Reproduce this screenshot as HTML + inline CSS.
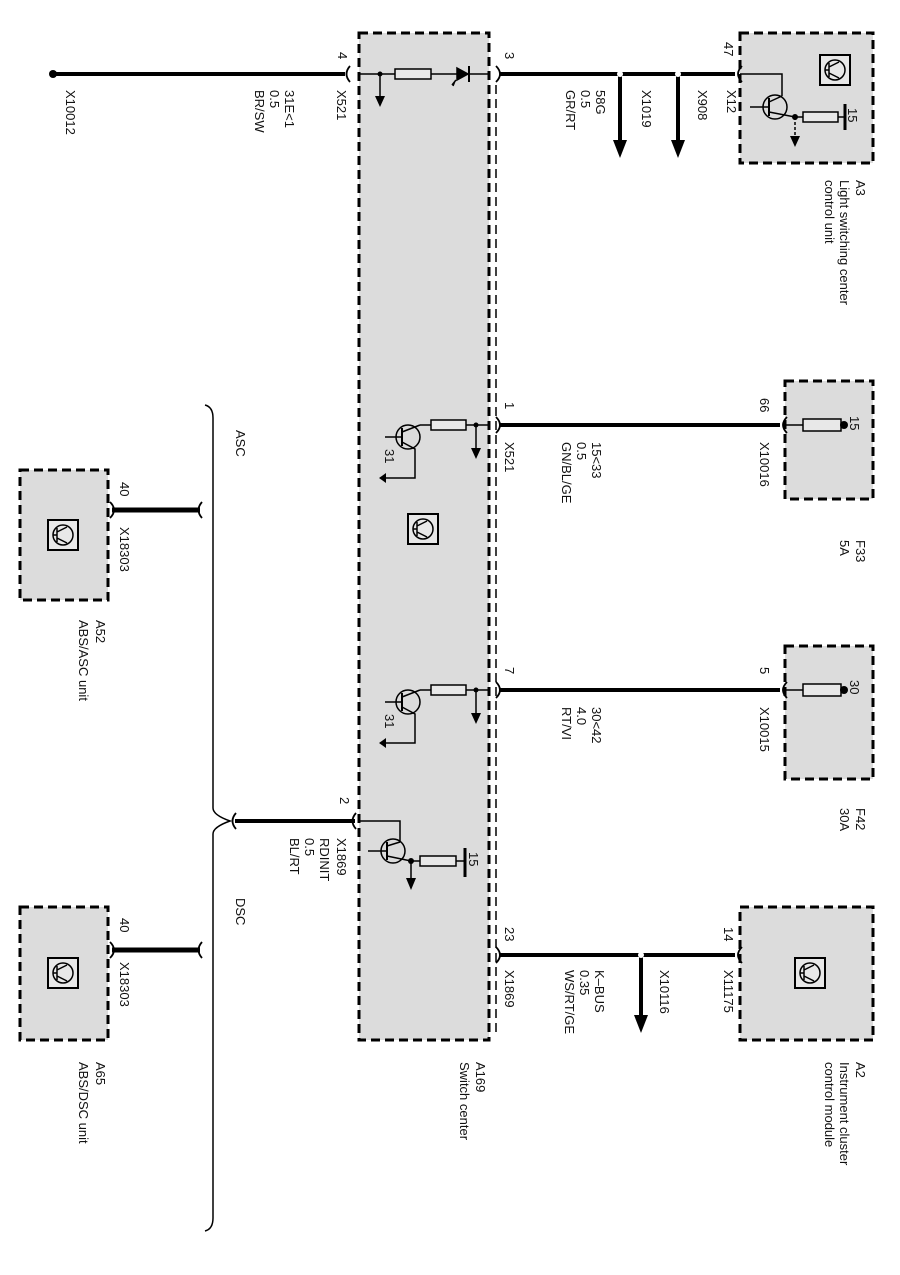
<!DOCTYPE html>
<html><head><meta charset="utf-8"><style>
html,body{margin:0;padding:0;background:#fff}
svg{display:block}
text{font-family:"Liberation Sans",sans-serif;font-size:13px;fill:#111}
</style></head><body>
<svg width="900" height="1275" viewBox="0 0 900 1275" xmlns="http://www.w3.org/2000/svg">
<defs>
<g id="icon"><rect x="0" y="0" width="30" height="30" fill="#e8e8e8" stroke="#000" stroke-width="2"/><circle cx="15" cy="15" r="10" fill="none" stroke="#000" stroke-width="1.5"/><path d="M9 8V22M9 15H5M9 12L19 7M9 18L19 23" stroke="#000" stroke-width="1.5" fill="none"/></g>
</defs>
<g fill="#dcdcdc" stroke="#000" stroke-width="3" stroke-dasharray="9,5">
<rect x="359" y="33" width="130" height="1007"/>
<rect x="740" y="33" width="133" height="130"/>
<rect x="785" y="381" width="88" height="118"/>
<rect x="785" y="646" width="88" height="133"/>
<rect x="740" y="907" width="133" height="133"/>
<rect x="20" y="470" width="88" height="130"/>
<rect x="20" y="907" width="88" height="133"/>
</g>
<line x1="496" y1="85" x2="496" y2="1035" stroke="#000" stroke-width="1.5" stroke-dasharray="9,5"/>
<!-- wires -->
<g stroke="#000" stroke-width="4" fill="none">
<line x1="55" y1="74" x2="345" y2="74"/>
<line x1="500" y1="74" x2="735" y2="74"/>
<line x1="500" y1="425" x2="780" y2="425"/>
<line x1="500" y1="690" x2="780" y2="690"/>
<line x1="235" y1="821" x2="355" y2="821"/>
<line x1="500" y1="955" x2="735" y2="955"/>
<line x1="112" y1="510" x2="200" y2="510" stroke-width="5"/>
<line x1="112" y1="950" x2="200" y2="950" stroke-width="5"/>
</g>
<circle cx="53" cy="74" r="4"/>
<!-- connector hooks -->
<g stroke="#000" stroke-width="1.8" fill="none">
<path d="M350 66Q343 74 350 82"/><path d="M496 66Q504 74 496 82"/><path d="M742 66Q734 74 742 82"/>
<path d="M496 417Q504 425 496 433"/><path d="M787 417Q779 425 787 433"/>
<path d="M496 682Q504 690 496 698"/><path d="M787 682Q779 690 787 698"/>
<path d="M356 813Q349 821 356 829"/><path d="M236 813Q229 821 236 829"/>
<path d="M496 947Q504 955 496 963"/><path d="M742 947Q734 955 742 963"/>
<path d="M110 502Q118 510 110 518"/><path d="M202 502Q195 510 202 518"/>
<path d="M110 942Q118 950 110 958"/><path d="M202 942Q195 950 202 958"/>
</g>
<!-- branch arrows -->
<g stroke="#000" stroke-width="4"><line x1="620" y1="74" x2="620" y2="145"/><line x1="678" y1="74" x2="678" y2="145"/><line x1="641" y1="955" x2="641" y2="1020"/></g>
<g fill="#000"><polygon points="613,140 627,140 620,158"/><polygon points="671,140 685,140 678,158"/><polygon points="634,1015 648,1015 641,1033"/>
<circle cx="620" cy="74" r="3" fill="#fff"/><circle cx="678" cy="74" r="3" fill="#fff"/><circle cx="641" cy="955" r="3" fill="#fff"/></g>
<!-- inside main box row1 -->
<g stroke="#000" stroke-width="1.5" fill="none">
<line x1="359" y1="74" x2="489" y2="74"/>
<rect x="395" y="69" width="36" height="10" fill="#e8e8e8"/>
<line x1="380" y1="74" x2="380" y2="98"/>
<path d="M457 68L468 74L457 80Z" fill="#000"/><line x1="469" y1="66" x2="469" y2="82" stroke-width="2"/>
<path d="M456 80L452 85M453 86l2 -5"/>
<!-- row2 -->
<line x1="420" y1="425" x2="489" y2="425"/>
<rect x="431" y="420" width="35" height="10" fill="#e8e8e8"/>
<line x1="476" y1="425" x2="476" y2="450"/>
<circle cx="408" cy="437" r="12"/>
<line x1="402" y1="428" x2="402" y2="446" stroke-width="2"/><line x1="385" y1="437" x2="402" y2="437"/>
<path d="M402 432L420 425M402 442L415 449V478H386"/>
<!-- row3 -->
<line x1="420" y1="690" x2="489" y2="690"/>
<rect x="431" y="685" width="35" height="10" fill="#e8e8e8"/>
<line x1="476" y1="690" x2="476" y2="715"/>
<circle cx="408" cy="702" r="12"/>
<line x1="402" y1="693" x2="402" y2="711" stroke-width="2"/><line x1="385" y1="702" x2="402" y2="702"/>
<path d="M402 697L420 690M402 707L415 714V743H386"/>
<!-- row4 -->
<path d="M359 821H400V842"/>
<circle cx="393" cy="851" r="12"/>
<line x1="387" y1="842" x2="387" y2="860" stroke-width="2"/><line x1="368" y1="851" x2="387" y2="851"/>
<path d="M387 846L400 842M387 856L411 861H420"/>
<rect x="420" y="856" width="36" height="10" fill="#e8e8e8"/>
<line x1="456" y1="861" x2="465" y2="861"/><line x1="465" y1="848" x2="465" y2="877" stroke-width="3"/>
<line x1="411" y1="861" x2="411" y2="880"/>
<!-- A3 internals -->
<path d="M740 74H782V96"/>
<circle cx="775" cy="107" r="12"/>
<line x1="769" y1="98" x2="769" y2="116" stroke-width="2"/><line x1="750" y1="107" x2="769" y2="107"/>
<path d="M769 102L782 96M769 112L795 117H803"/>
<rect x="803" y="112" width="35" height="10" fill="#e8e8e8"/>
<line x1="838" y1="117" x2="845" y2="117"/><line x1="845" y1="104" x2="845" y2="130" stroke-width="3"/>
<line x1="795" y1="117" x2="795" y2="138" stroke-dasharray="3,2"/>
<!-- fuses -->
<line x1="785" y1="425" x2="845" y2="425"/><rect x="803" y="419" width="38" height="12" fill="#e8e8e8"/>
<line x1="785" y1="690" x2="845" y2="690"/><rect x="803" y="684" width="38" height="12" fill="#e8e8e8"/>
<!-- brace -->
<path d="M205 405Q213 407 213 418V808Q213 815 230 821Q213 827 213 834V1218Q213 1229 205 1231"/>
</g>
<g fill="#000">
<circle cx="380" cy="74" r="2.5"/><polygon points="375,96 385,96 380,107"/>
<circle cx="476" cy="425" r="2.5"/><polygon points="471,448 481,448 476,459"/>
<polygon points="386,473 386,483 379,478"/>
<circle cx="476" cy="690" r="2.5"/><polygon points="471,713 481,713 476,724"/>
<polygon points="386,738 386,748 379,743"/>
<circle cx="411" cy="861" r="3"/><polygon points="406,878 416,878 411,890"/>
<circle cx="795" cy="117" r="3"/><polygon points="790,136 800,136 795,147"/>
<circle cx="844" cy="425" r="4"/><circle cx="844" cy="690" r="4"/>
</g>
<use href="#icon" x="820" y="55"/><use href="#icon" x="408" y="514"/>
<use href="#icon" x="795" y="958"/><use href="#icon" x="48" y="520"/><use href="#icon" x="48" y="958"/>
<!-- labels -->
<g>
<text transform="translate(338,52) rotate(90)">4</text>
<text transform="translate(505,52) rotate(90)">3</text>
<text transform="translate(724,42) rotate(90)">47</text>
<text transform="translate(337,90) rotate(90)">X521</text>
<text transform="translate(285,90) rotate(90)">31E&lt;1</text>
<text transform="translate(270,90) rotate(90)">0.5</text>
<text transform="translate(255,90) rotate(90)">BR/SW</text>
<text transform="translate(66,90) rotate(90)">X10012</text>
<text transform="translate(596,90) rotate(90)">58G</text>
<text transform="translate(581,90) rotate(90)">0.5</text>
<text transform="translate(566,90) rotate(90)">GR/RT</text>
<text transform="translate(642,90) rotate(90)">X1019</text>
<text transform="translate(698,90) rotate(90)">X908</text>
<text transform="translate(727,90) rotate(90)">X12</text>
<text transform="translate(848,108) rotate(90)">15</text>
<text transform="translate(856,180) rotate(90)">A3</text>
<text transform="translate(840,180) rotate(90)">Light switching center</text>
<text transform="translate(825,180) rotate(90)">control unit</text>
<text transform="translate(505,402) rotate(90)">1</text>
<text transform="translate(760,398) rotate(90)">66</text>
<text transform="translate(505,442) rotate(90)">X521</text>
<text transform="translate(592,442) rotate(90)">15&lt;33</text>
<text transform="translate(577,442) rotate(90)">0.5</text>
<text transform="translate(562,442) rotate(90)">GN/BL/GE</text>
<text transform="translate(760,442) rotate(90)">X10016</text>
<text transform="translate(850,416) rotate(90)">15</text>
<text transform="translate(856,540) rotate(90)">F33</text>
<text transform="translate(840,540) rotate(90)">5A</text>
<text transform="translate(385,449) rotate(90)">31</text>
<text transform="translate(505,667) rotate(90)">7</text>
<text transform="translate(760,667) rotate(90)">5</text>
<text transform="translate(592,707) rotate(90)">30&lt;42</text>
<text transform="translate(577,707) rotate(90)">4.0</text>
<text transform="translate(562,707) rotate(90)">RT/VI</text>
<text transform="translate(760,707) rotate(90)">X10015</text>
<text transform="translate(850,680) rotate(90)">30</text>
<text transform="translate(856,808) rotate(90)">F42</text>
<text transform="translate(840,808) rotate(90)">30A</text>
<text transform="translate(385,714) rotate(90)">31</text>
<text transform="translate(340,797) rotate(90)">2</text>
<text transform="translate(337,838) rotate(90)">X1869</text>
<text transform="translate(320,838) rotate(90)">RDINIT</text>
<text transform="translate(305,838) rotate(90)">0.5</text>
<text transform="translate(290,838) rotate(90)">BL/RT</text>
<text transform="translate(469,852) rotate(90)">15</text>
<text transform="translate(505,927) rotate(90)">23</text>
<text transform="translate(724,927) rotate(90)">14</text>
<text transform="translate(505,970) rotate(90)">X1869</text>
<text transform="translate(595,970) rotate(90)">K&#8211;BUS</text>
<text transform="translate(580,970) rotate(90)">0.35</text>
<text transform="translate(565,970) rotate(90)">WS/RT/GE</text>
<text transform="translate(660,970) rotate(90)">X10116</text>
<text transform="translate(724,970) rotate(90)">X11175</text>
<text transform="translate(856,1062) rotate(90)">A2</text>
<text transform="translate(840,1062) rotate(90)">Instrument cluster</text>
<text transform="translate(825,1062) rotate(90)">control module</text>
<text transform="translate(476,1062) rotate(90)">A169</text>
<text transform="translate(460,1062) rotate(90)">Switch center</text>
<text transform="translate(236,430) rotate(90)">ASC</text>
<text transform="translate(236,898) rotate(90)">DSC</text>
<text transform="translate(120,482) rotate(90)">40</text>
<text transform="translate(120,527) rotate(90)">X18303</text>
<text transform="translate(96,620) rotate(90)">A52</text>
<text transform="translate(79,620) rotate(90)">ABS/ASC unit</text>
<text transform="translate(120,918) rotate(90)">40</text>
<text transform="translate(120,962) rotate(90)">X18303</text>
<text transform="translate(96,1062) rotate(90)">A65</text>
<text transform="translate(79,1062) rotate(90)">ABS/DSC unit</text>
</g>
</svg>
</body></html>
